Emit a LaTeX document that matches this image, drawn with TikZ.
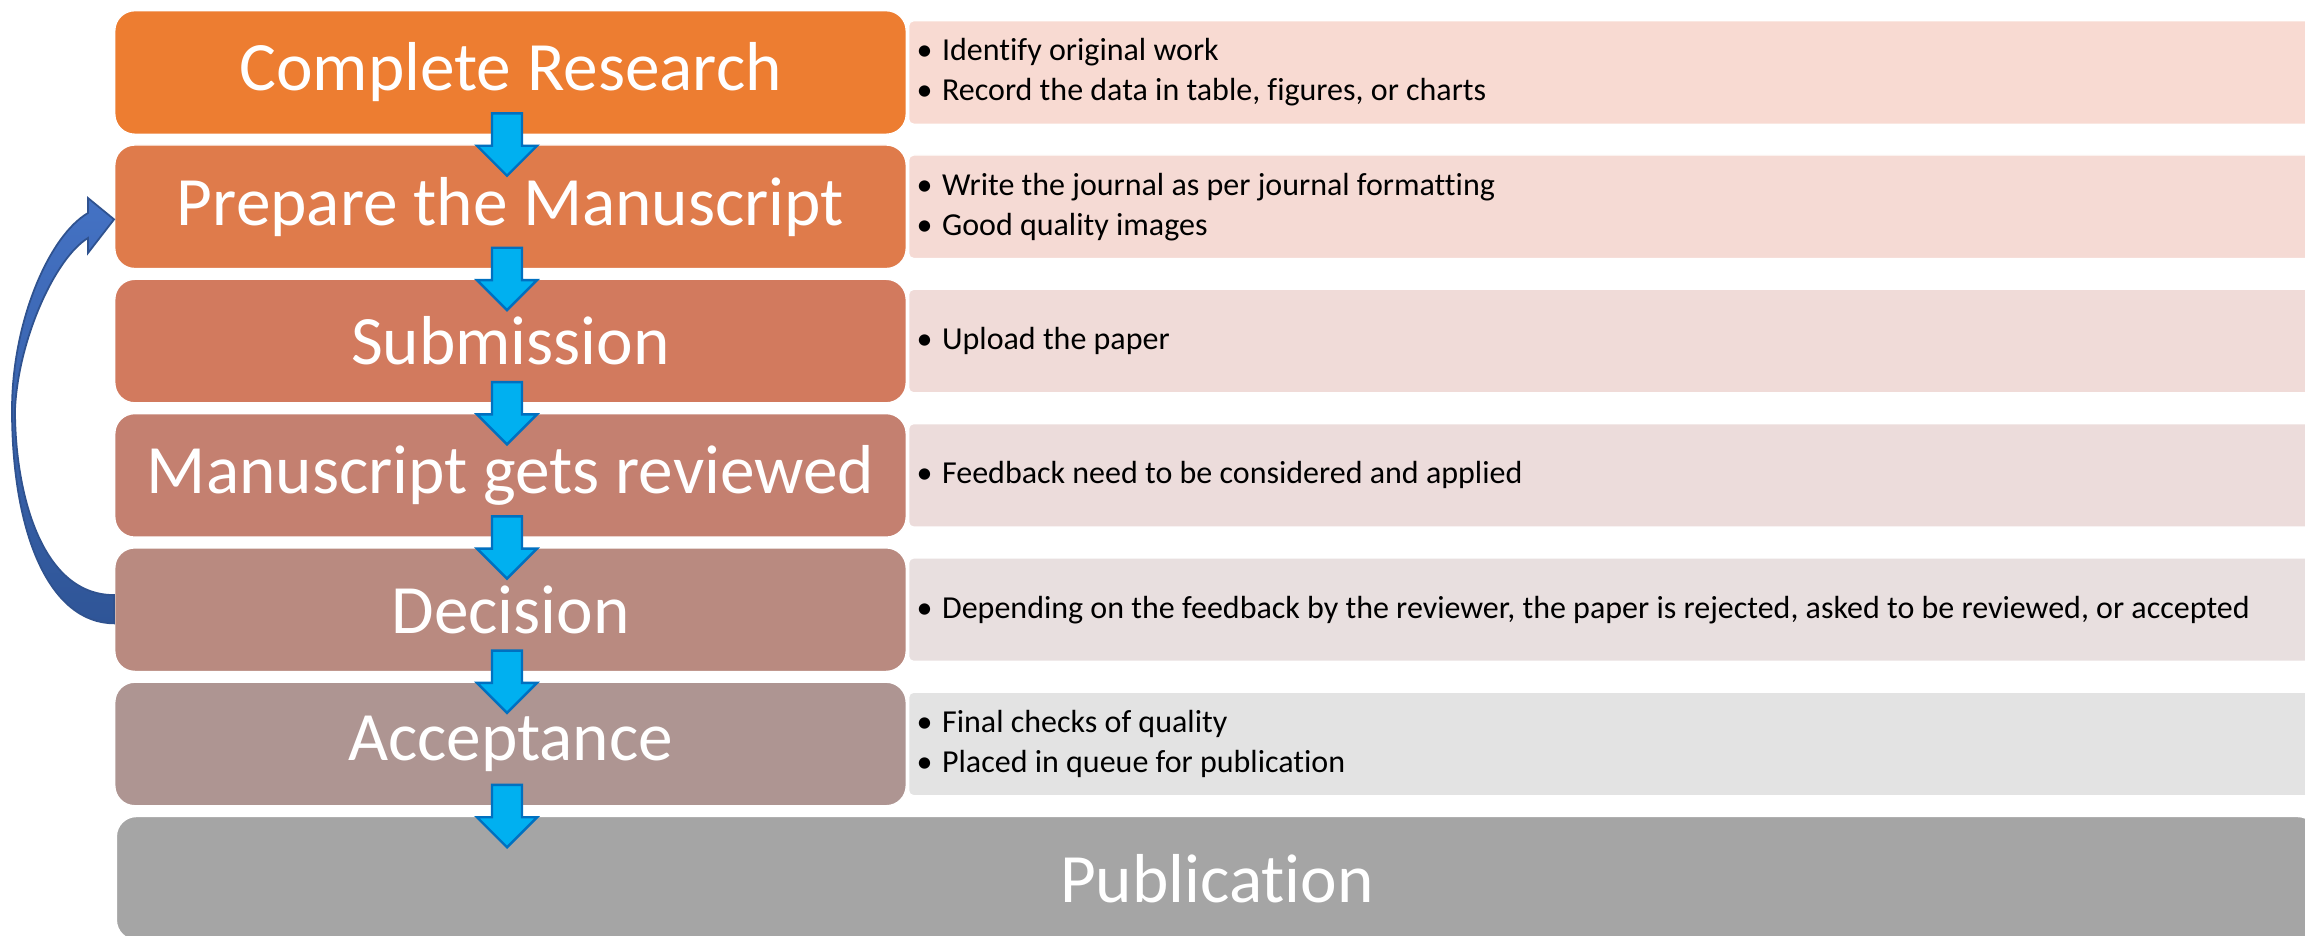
\documentclass[tikz,border=0pt]{standalone}
\usepackage{fontspec}
\setmainfont{Carlito}[Ligatures=NoCommon]
\usetikzlibrary{calc}
\definecolor{c1}{HTML}{ED7D31}
\definecolor{c2}{HTML}{DF7B4B}
\definecolor{c3}{HTML}{D27A5E}
\definecolor{c4}{HTML}{C48070}
\definecolor{c5}{HTML}{B98A80}
\definecolor{c6}{HTML}{AE9592}
\definecolor{c7}{HTML}{A5A5A5}
\definecolor{t1}{HTML}{F8DAD2}
\definecolor{t2}{HTML}{F5DAD4}
\definecolor{t3}{HTML}{F0DBD8}
\definecolor{t4}{HTML}{ECDCDB}
\definecolor{t5}{HTML}{E8DFDF}
\definecolor{t6}{HTML}{E3E3E3}
\definecolor{arrfill}{HTML}{00B0F0}
\definecolor{arrline}{HTML}{0070C0}
\definecolor{loopA}{HTML}{4472C4}
\definecolor{loopB}{HTML}{2F5597}
\definecolor{loopline}{HTML}{2F528F}
\begin{document}
\begin{tikzpicture}[x=0.01cm,y=-0.01cm,
  stage/.style={rectangle, rounded corners=0.2cm, minimum width=7.91cm,
    minimum height=1.235cm, draw=white, line width=0.4pt, text=white,
    font=\fontsize{19.7}{24}\selectfont, inner sep=0pt},
  note/.style={rectangle, rounded corners=0.05cm, minimum width=14.01cm,
    minimum height=1.035cm, draw=white, line width=0.4pt, inner sep=0pt},
  notetext/.style={anchor=west, align=left, inner sep=0pt,
    font=\fontsize{9.1}{11.4}\selectfont, text=black},
  downarr/.style={fill=arrfill, draw=arrline, line width=0.7pt, line join=miter},
  loopstyle/.style={top color=loopA, bottom color=loopB, draw=loopline, line width=0.5pt},
]
\clip (0,0) rectangle (2305,935);
\newcommand{\bul}{\makebox[0.255cm][l]{•}}

% stages
\node[stage, fill=c1] (b1) at (510.5,72.45) {Complete Research};
\node[stage, fill=c2] (b2) at (510.5,206.75) {Prepare the Manuscript};
\node[stage, fill=c3] (b3) at (510.5,341.05) {Submission};
\node[stage, fill=c4] (b4) at (510.5,475.35) {Manuscript gets reviewed};
\node[stage, fill=c5] (b5) at (510.5,609.65) {Decision};
\node[stage, fill=c6] (b6) at (510.5,743.95) {Acceptance};
\node[stage, fill=c7, minimum width=22cm] (b7) at (1217,878.25) {Publication};

% notes
\node[note, fill=t1] (n1) at (1609.5,72.45) {};
\node[note, fill=t2] (n2) at (1609.5,206.75) {};
\node[note, fill=t3] (n3) at (1609.5,341.05) {};
\node[note, fill=t4] (n4) at (1609.5,475.35) {};
\node[note, fill=t5] (n5) at (1609.5,609.65) {};
\node[note, fill=t6] (n6) at (1609.5,743.95) {};

\node[notetext] (n1t) at ($(n1.west)+(8,0)$) {\bul Identify original work\\\bul Record the data in table, figures, or charts};
\node[notetext] (n2t) at ($(n2.west)+(8,0)$) {\bul Write the journal as per journal formatting\\\bul Good quality images};
\node[notetext] (n3t) at ($(n3.west)+(8,0)$) {\bul Upload the paper};
\node[notetext] (n4t) at ($(n4.west)+(8,0)$) {\bul Feedback need to be considered and applied};
\node[notetext] (n5t) at ($(n5.west)+(8,0)$) {\bul Depending on the feedback by the reviewer, the paper is rejected, asked to be reviewed, or accepted};
\node[notetext] (n6t) at ($(n6.west)+(8,0)$) {\bul Final checks of quality\\\bul Placed in queue for publication};

% down arrows
\foreach \i in {1,...,6}{
  \draw[downarr] ($(b\i.south)+(-18.5,-21.5)$) -- ++(30,0) -- ++(0,32.3)
    -- ++(15,0) -- ++(-30,30) -- ++(-30,-30) -- ++(15,0) -- cycle;
}

% loop-back arrow from Decision to Prepare the Manuscript
\draw[loopstyle] ($(b5.west)+(0,13.7)$)
  .. controls (50,623) and (12,535) .. (12,410)
  .. controls (12,320) and (50,235) .. (88,213)
  -- (88,198) -- ($(b2.west)+(0,12.6)$) -- (88,253) -- (88,238)
  .. controls (55,258) and (18,340) .. (15,410)
  .. controls (15,490) and (40,595) .. ($(b5.west)+(0,-14.6)$) -- cycle;
\end{tikzpicture}
\end{document}
